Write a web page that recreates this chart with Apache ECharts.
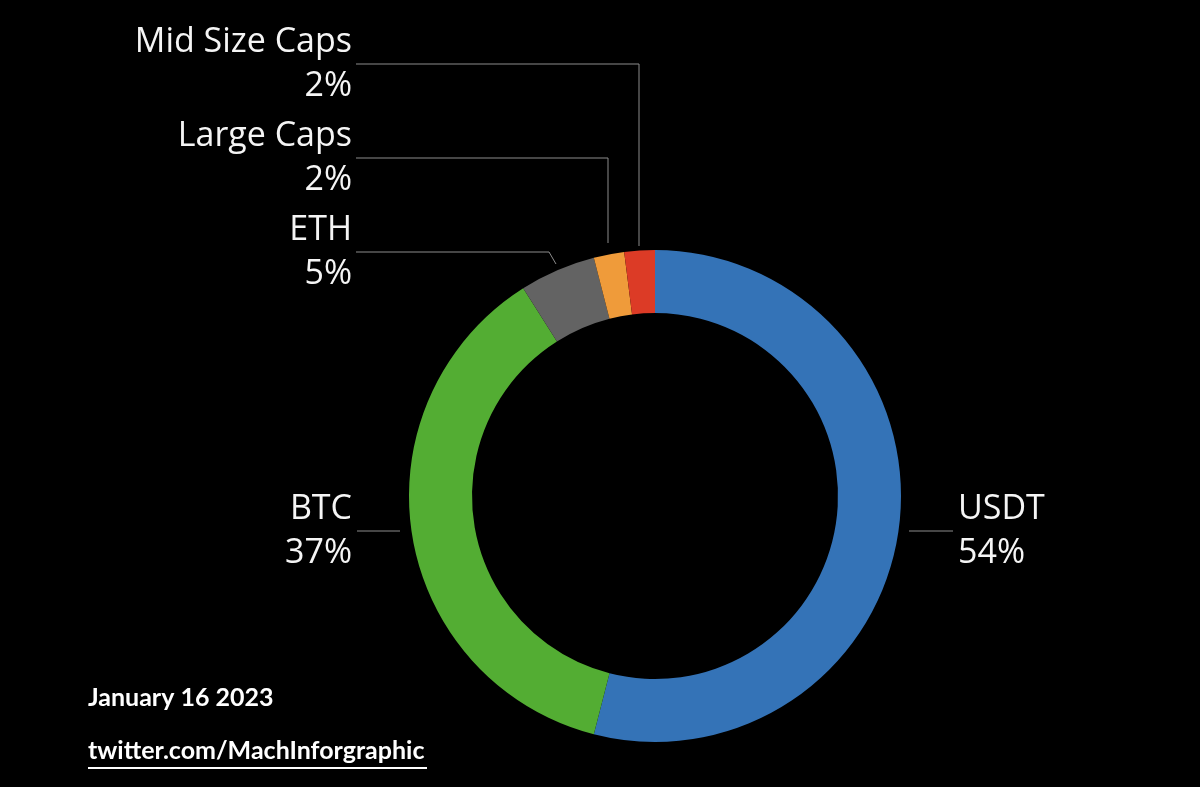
<!DOCTYPE html>
<html>
<head>
<meta charset="utf-8">
<script src="https://cdn.jsdelivr.net/npm/echarts@6/dist/echarts.min.js"></script>
<style>
	html, body { margin: 0; padding: 0; background: #000; }
	#chart { width: 1200px; height: 787px; }
</style>
</head>
<body>
<div id="chart"></div>
<script>
// Data
var names = ['USDT', 'BTC', 'ETH', 'Large Caps', 'Mid Size Caps'];
var shares = [54, 37, 5, 2, 2];	// percent of portfolio
var colors = ['#3473b7', '#53ad33', '#636363', '#ef9b3a', '#dc3b26'];
var dateText = 'January 16 2023';
var sourceText = 'twitter.com/MachInforgraphic';

// Label placement (x, y of label, align, leader line points)
var labelPos = [
	{ x: 958, y: 531, align: 'left', line: [[909, 531], [953, 531]] },
	{ x: 352, y: 531, align: 'right', line: [[400, 531], [357, 531]] },
	{ x: 352, y: 252, align: 'right', line: [[556, 264], [549, 252], [356, 252]] },
	{ x: 352, y: 158, align: 'right', line: [[608, 243], [608, 158], [356, 158]] },
	{ x: 352, y: 64, align: 'right', line: [[639, 246], [639, 64], [356, 64]] }
];

var chart = echarts.init(document.getElementById('chart'), '', { renderer: 'canvas' });

var data = [];
for (let i = 0; i < names.length; i++) {
	data[i] = {
		name: names[i],
		value: shares[i],
		itemStyle: { color: colors[i] }
	};
}

chart.setOption({
	backgroundColor: '#000',
	animation: false,
	series: [{
		type: 'pie',
		center: [655, 496],
		radius: [183, 246],
		startAngle: 90,
		clockwise: true,
		data: data,
		label: {
			show: true,
			position: 'outside',
			formatter: function(p) { return p.name + '\n' + p.value + '%'; },
			color: '#f5f5f5',
			fontFamily: 'Open Sans',
			fontSize: 34,
			lineHeight: 44
		},
		labelLine: {
			show: true,
			lineStyle: { color: '#8c8c8c', width: 1 }
		},
		labelLayout: function(params) {
			let p = labelPos[params.dataIndex];
			return {
				x: p.x,
				y: p.y,
				align: p.align,
				verticalAlign: 'middle',
				labelLinePoints: p.line
			};
		},
		emphasis: { disabled: true }
	}],
	graphic: [
		{
			type: 'text',
			left: 88,
			top: 685,
			style: { text: dateText, fill: '#fff', font: 'bold 25px Lato' }
		},
		{
			type: 'text',
			left: 88,
			top: 738,
			style: { text: sourceText, fill: '#fff', font: 'bold 25px Lato' }
		},
		{
			type: 'line',
			shape: { x1: 88, y1: 768, x2: 427, y2: 768 },
			style: { stroke: '#fff', lineWidth: 2 }
		}
	]
});
</script>
</body>
</html>
